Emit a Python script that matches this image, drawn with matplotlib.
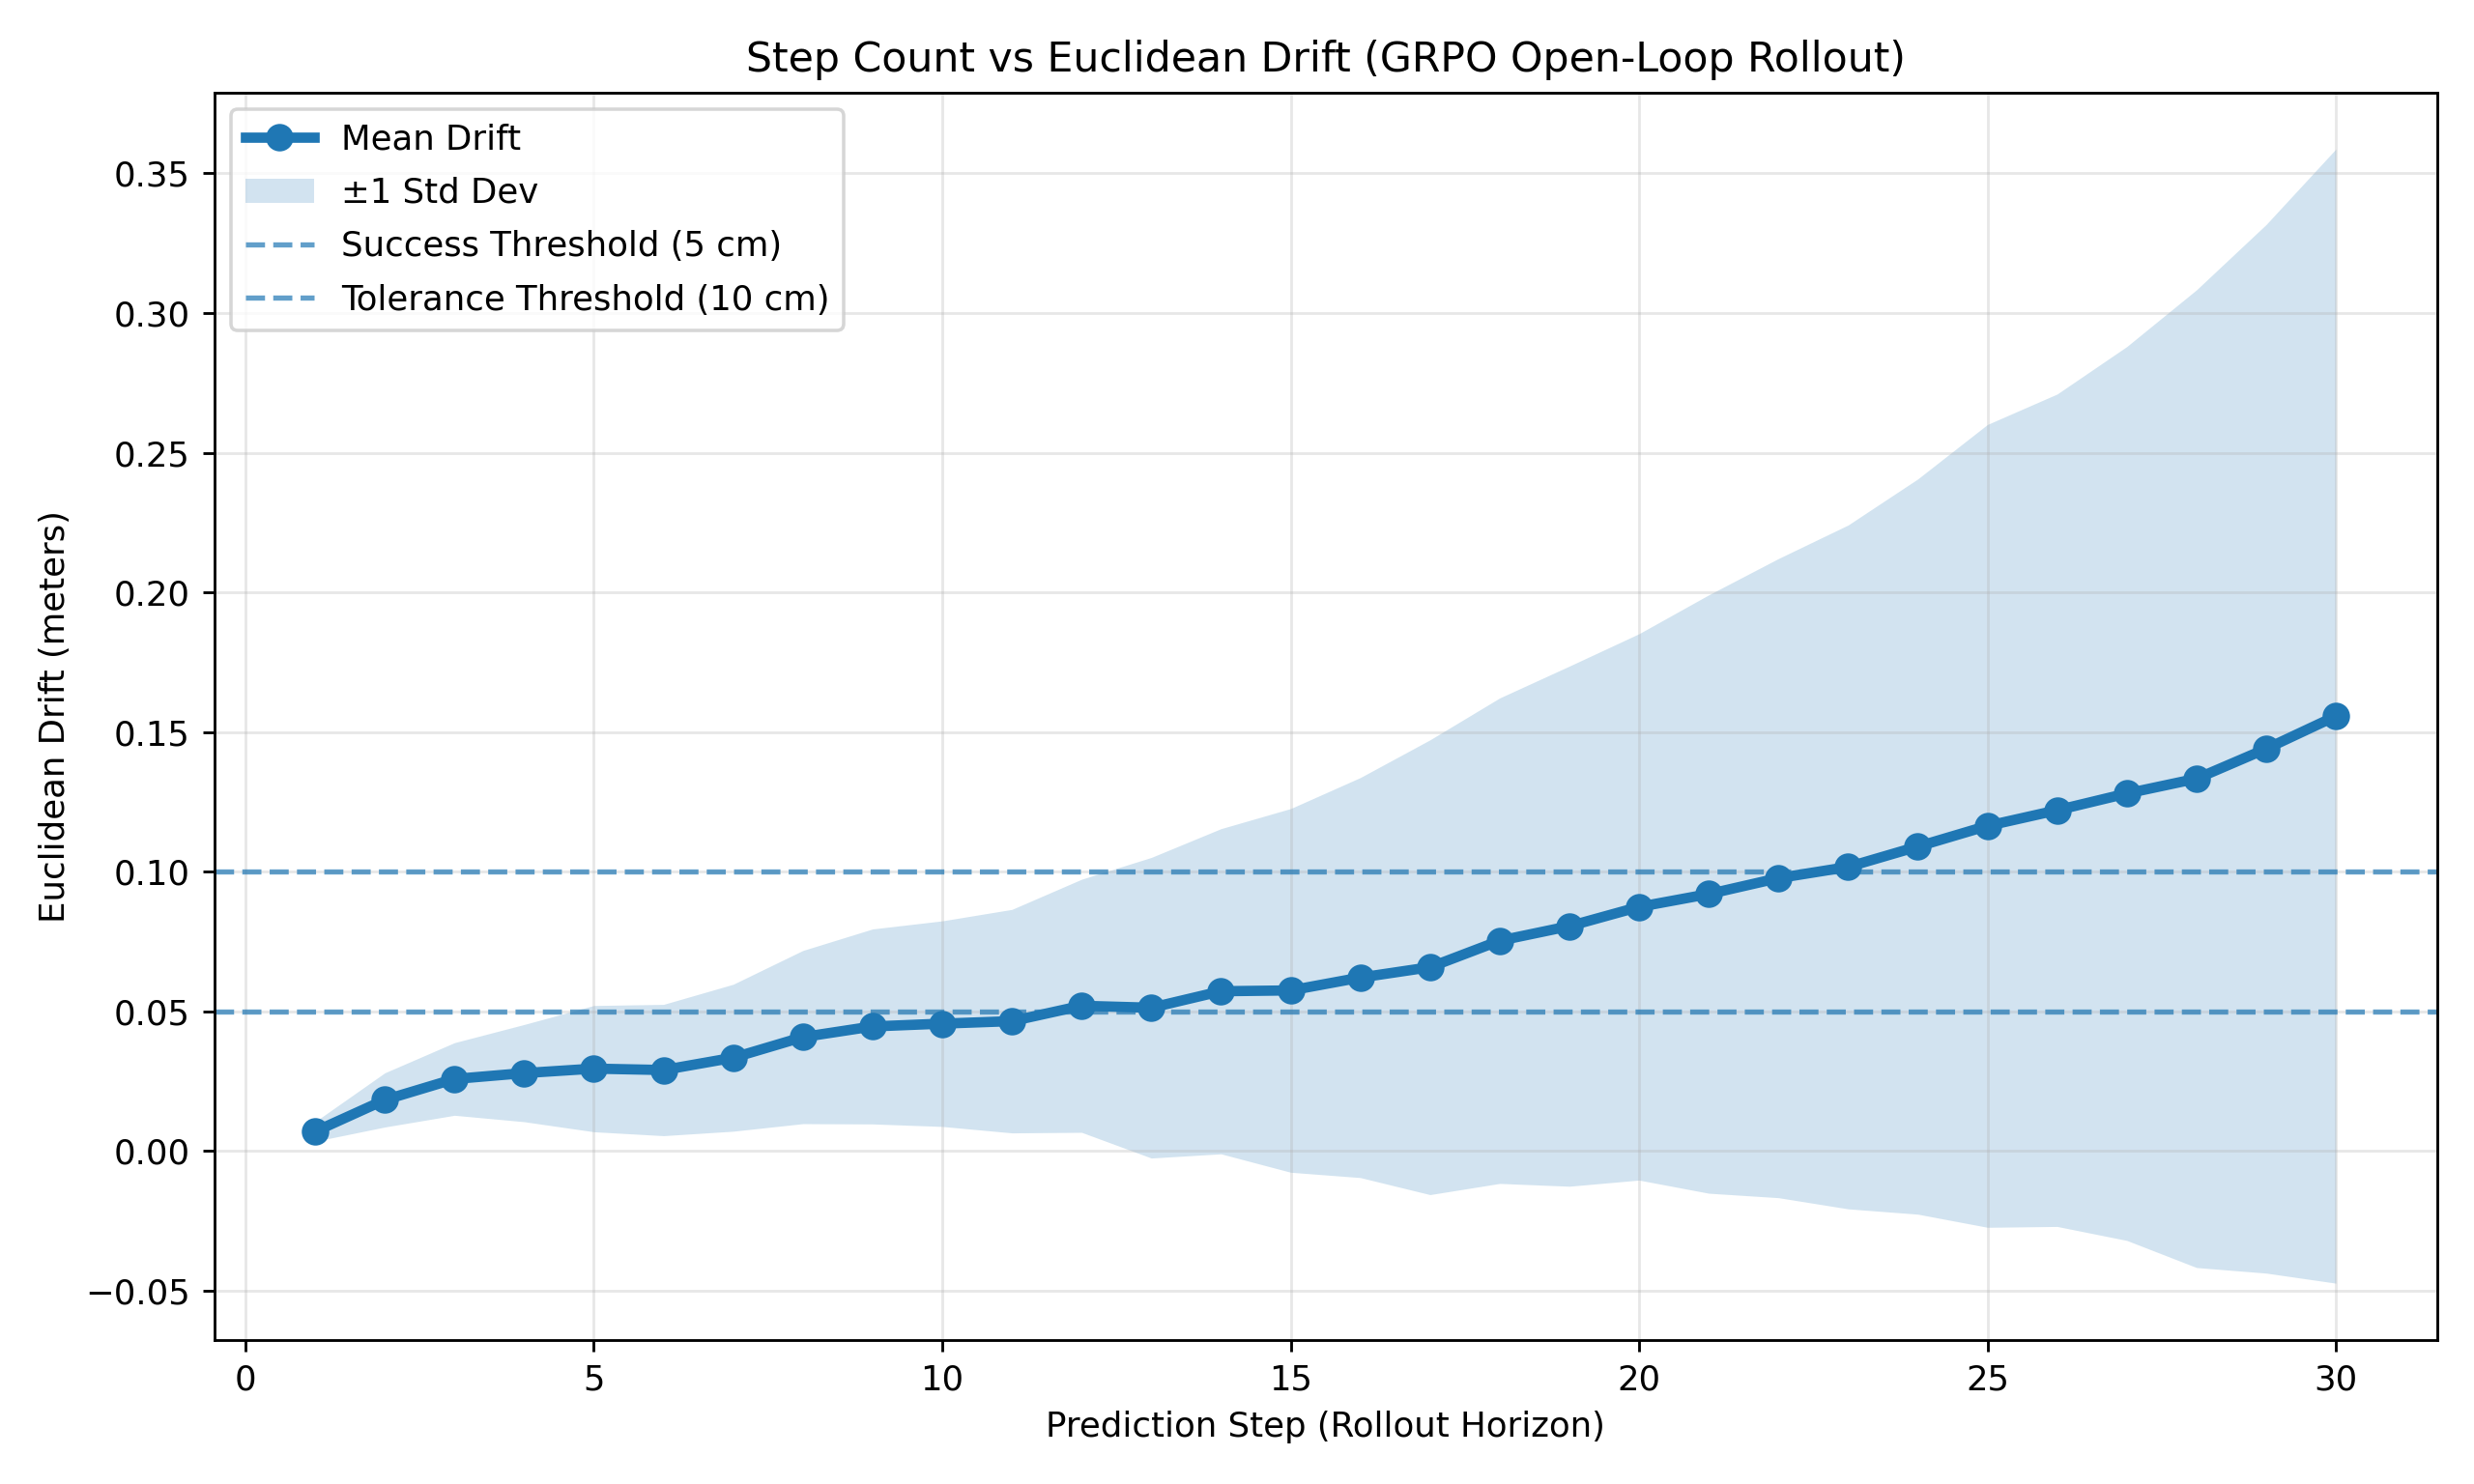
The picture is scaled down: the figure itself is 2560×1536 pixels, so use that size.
import matplotlib
matplotlib.use('Agg')
import matplotlib.pyplot as plt
import numpy as np

# data
steps = np.arange(1, 31)
mean_drift = [0.0070, 0.0183, 0.0258, 0.0279, 0.0295, 0.0290, 0.0334, 0.0408, 0.0446, 0.0456,
              0.0465, 0.0520, 0.0513, 0.0572, 0.0575, 0.0621, 0.0658, 0.0753, 0.0805, 0.0874,
              0.0920, 0.0977, 0.1017, 0.1090, 0.1164, 0.1220, 0.1280, 0.1333, 0.1440, 0.1557]
std_drift = [0.0035, 0.0097, 0.0130, 0.0174, 0.0226, 0.0235, 0.0263, 0.0310, 0.0349, 0.0368,
             0.0400, 0.0453, 0.0538, 0.0582, 0.0651, 0.0716, 0.0814, 0.0869, 0.0931, 0.0978,
             0.1071, 0.1144, 0.1224, 0.1316, 0.1437, 0.1490, 0.1600, 0.1750, 0.1877, 0.2030]
success_threshold = 0.05
tolerance_threshold = 0.10

mean_drift = np.array(mean_drift)
std_drift = np.array(std_drift)

fig, ax = plt.subplots(figsize=(10, 6))
ax.plot(steps, mean_drift, '-o', color='#1f77b4', linewidth=3, markersize=7, label='Mean Drift')
ax.fill_between(steps, mean_drift - std_drift, mean_drift + std_drift, color='#1f77b4', alpha=0.2,
                linewidth=0, label='±1 Std Dev')
ax.axhline(success_threshold, color='#1f77b4', linestyle='--', linewidth=1.5, alpha=0.7,
           label='Success Threshold (5 cm)')
ax.axhline(tolerance_threshold, color='#1f77b4', linestyle='--', linewidth=1.5, alpha=0.7,
           label='Tolerance Threshold (10 cm)')

ax.set_title('Step Count vs Euclidean Drift (GRPO Open-Loop Rollout)', fontsize=12)
ax.set_xlabel('Prediction Step (Rollout Horizon)')
ax.set_ylabel('Euclidean Drift (meters)')
ax.grid(True, alpha=0.3)
ax.legend(loc='upper left', labelspacing=0.6)
plt.tight_layout()
plt.savefig('out.png', dpi=256)
